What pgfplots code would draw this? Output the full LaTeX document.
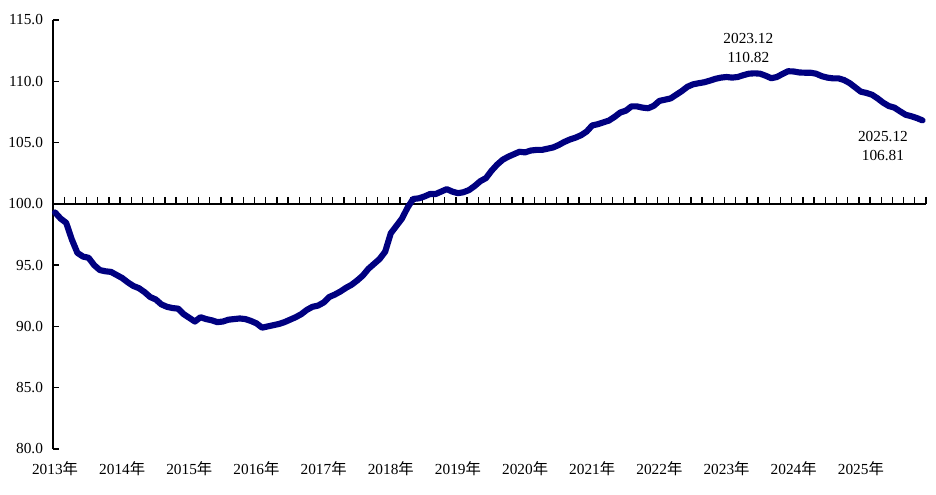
\documentclass[border=0pt]{standalone}
\usepackage{fontspec}
\setmainfont{Liberation Serif}
\newfontfamily\cjk{Noto Sans CJK SC}
\usepackage{pgfplots}
\usepackage{pgfplotstable}
\pgfplotsset{compat=1.18}
\definecolor{navyline}{RGB}{0,0,128}

% monthly index, Jan 2013 = 0
\pgfplotstableread{
m v
0 99.3
1 98.8
2 98.45
3 97.1
4 96.0
5 95.7
6 95.6
7 95.0
8 94.6
9 94.5
10 94.45
11 94.2
12 93.95
13 93.6
14 93.3
15 93.12
16 92.8
17 92.4
18 92.2
19 91.8
20 91.6
21 91.5
22 91.45
23 91.0
24 90.7
25 90.4
26 90.75
27 90.6
28 90.5
29 90.35
30 90.4
31 90.55
32 90.6
33 90.65
34 90.6
35 90.45
36 90.25
37 89.9
38 90.0
39 90.1
40 90.2
41 90.35
42 90.55
43 90.75
44 91.0
45 91.35
46 91.6
47 91.7
48 91.95
49 92.4
50 92.6
51 92.85
52 93.15
53 93.4
54 93.75
55 94.15
56 94.7
57 95.1
58 95.5
59 96.1
60 97.6
61 98.2
62 98.8
63 99.7
64 100.4
65 100.45
66 100.6
67 100.8
68 100.8
69 101.0
70 101.2
71 101.0
72 100.87
73 100.95
74 101.13
75 101.46
76 101.85
77 102.1
78 102.7
79 103.2
80 103.6
81 103.85
82 104.05
83 104.25
84 104.2
85 104.35
86 104.4
87 104.4
88 104.5
89 104.6
90 104.8
91 105.05
92 105.25
93 105.4
94 105.6
95 105.9
96 106.4
97 106.5
98 106.65
99 106.8
100 107.1
101 107.45
102 107.6
103 107.95
104 107.95
105 107.85
106 107.8
107 108.0
108 108.4
109 108.5
110 108.6
111 108.9
112 109.2
113 109.55
114 109.75
115 109.84
116 109.92
117 110.05
118 110.2
119 110.3
120 110.35
121 110.3
122 110.35
123 110.5
124 110.62
125 110.65
126 110.62
127 110.45
128 110.25
129 110.35
130 110.6
131 110.82
132 110.8
133 110.72
134 110.7
135 110.7
136 110.62
137 110.42
138 110.3
139 110.24
140 110.24
141 110.1
142 109.85
143 109.5
144 109.15
145 109.05
146 108.9
147 108.6
148 108.25
149 107.98
150 107.85
151 107.55
152 107.27
153 107.15
154 107.0
155 106.81
}\idx

\begin{document}
\begin{tikzpicture}
% invisible frame sets page size
\path (-39.75pt,-33.75pt) rectangle (662.25pt,336.75pt);

% the line at 100 with its small ticks
\begin{axis}[
  at={(0pt,183.857pt)}, anchor=south west,
  scale only axis, width=654.75pt, height=137.89pt,
  xmin=0, xmax=156, ymin=100, ymax=115,
  axis x line*=bottom, axis y line=none,
  xtick={2,4,...,156}, xticklabels={},
  xtick align=inside, major tick length=5pt,
  x axis line style={line width=1pt, black},
  every tick/.append style={line width=1pt, black},
  major tick style={line width=1pt, black},
]
\end{axis}

\begin{axis}[
  at={(0pt,0pt)}, anchor=south west,
  scale only axis, width=654.75pt, height=321.75pt,
  xmin=-0.36, xmax=155.64, ymin=80, ymax=115,
  axis lines*=left,
  x axis line style={draw=none},
  y axis line style={line width=1pt, black},
  ytick={80,85,...,115},
  yticklabels={80.0,85.0,90.0,95.0,100.0,105.0,110.0,115.0},
  ytick style={line width=1pt, black},
  tick align=inside, major tick length=4.5pt,
  xtick={0,12,...,144},
  xticklabels={2013{\cjk 年},2014{\cjk 年},2015{\cjk 年},2016{\cjk 年},2017{\cjk 年},2018{\cjk 年},2019{\cjk 年},2020{\cjk 年},2021{\cjk 年},2022{\cjk 年},2023{\cjk 年},2024{\cjk 年},2025{\cjk 年}},
  xtick style={draw=none},
  tick label style={font=\fontsize{11.5}{13}\selectfont},
  yticklabel style={xshift=-4pt},
  xticklabel style={yshift=-6pt},
  clip=false,
]
\addplot[navyline, line width=4.6pt, line join=round, line cap=round] table[x=m, y=v] {\idx};
\node[align=center, font=\fontsize{11.5}{14.25}\selectfont] at (axis cs:123.9,112.75) {2023.12\\110.82};
\node[align=center, font=\fontsize{11.5}{14.25}\selectfont] at (axis cs:147.95,104.76) {2025.12\\106.81};
\end{axis}
\end{tikzpicture}
\end{document}
